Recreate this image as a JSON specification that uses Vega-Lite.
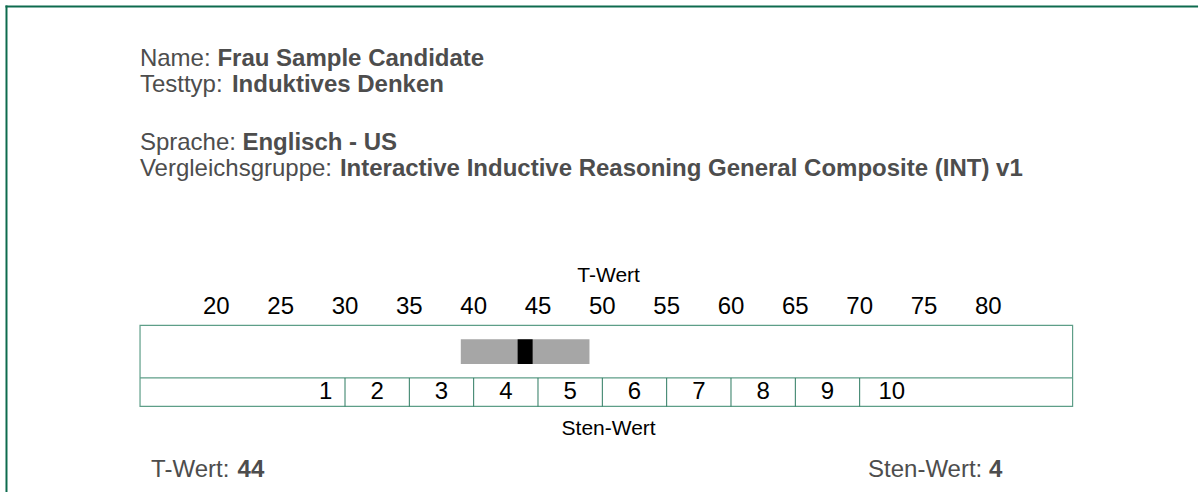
{
  "$schema": "https://vega.github.io/schema/vega-lite/v6.json",
  "width": 1200,
  "height": 493,
  "padding": 0,
  "autosize": {"type": "fit", "contains": "padding"},
  "background": "white",
  "config": {"view": {"stroke": null}, "font": "Liberation Sans"},
  "datasets": {
    "kopf": [
      {"feld": "Name", "label": "Name:", "wert": "Frau Sample Candidate"},
      {"feld": "Testtyp", "label": "Testtyp:", "wert": "Induktives Denken"},
      {"feld": "Sprache", "label": "Sprache:", "wert": "Englisch - US"},
      {"feld": "Vergleichsgruppe", "label": "Vergleichsgruppe:", "wert": "Interactive Inductive Reasoning General Composite (INT) v1"}
    ],
    "ergebnis": [{"t_wert": 44, "band_unten": 39, "band_oben": 49, "sten": 4}],
    "tskala": [{"t": 20}, {"t": 25}, {"t": 30}, {"t": 35}, {"t": 40}, {"t": 45}, {"t": 50}, {"t": 55}, {"t": 60}, {"t": 65}, {"t": 70}, {"t": 75}, {"t": 80}],
    "sten": [
      {"sten": 1, "t_mitte": 28.5}, {"sten": 2, "t_mitte": 32.5}, {"sten": 3, "t_mitte": 37.5},
      {"sten": 4, "t_mitte": 42.5}, {"sten": 5, "t_mitte": 47.5}, {"sten": 6, "t_mitte": 52.5},
      {"sten": 7, "t_mitte": 57.5}, {"sten": 8, "t_mitte": 62.5}, {"sten": 9, "t_mitte": 67.5},
      {"sten": 10, "t_mitte": 72.5}
    ]
  },
  "data": {"name": "ergebnis"},
  "layer": [
    {
      "mark": {"type": "rule", "color": "#0e6b4e", "strokeWidth": 2},
      "encoding": {
        "x": {"datum": 3.61, "type": "quantitative", "scale": {"domain": [3.186, 96.296], "nice": false, "zero": false}, "axis": null},
        "x2": {"datum": 96.3},
        "y": {"datum": 6.5, "type": "quantitative", "scale": {"domain": [0, 493], "reverse": true, "nice": false, "zero": false}, "axis": null}
      }
    },
    {
      "mark": {"type": "rule", "color": "#0e6b4e", "strokeWidth": 2},
      "encoding": {
        "x": {"datum": 3.69, "type": "quantitative", "axis": null},
        "y": {"datum": 5.5, "type": "quantitative", "axis": null},
        "y2": {"datum": 493}
      }
    },
    {
      "mark": {"type": "rect", "fill": "transparent", "stroke": "#5e9e88", "strokeWidth": 1.2},
      "encoding": {
        "x": {"datum": 14.07, "type": "quantitative", "axis": null},
        "x2": {"datum": 86.55},
        "y": {"datum": 326, "type": "quantitative", "axis": null},
        "y2": {"datum": 407.3}
      }
    },
    {
      "mark": {"type": "rule", "color": "#5e9e88", "strokeWidth": 1.2},
      "encoding": {
        "x": {"datum": 14.07, "type": "quantitative", "axis": null},
        "x2": {"datum": 86.55},
        "y": {"datum": 378.7, "type": "quantitative", "axis": null}
      }
    },
    {
      "data": {"name": "tskala"},
      "transform": [{"filter": "datum.t >= 30 && datum.t <= 70"}],
      "mark": {"type": "rule", "color": "#2c7a60", "strokeWidth": 1},
      "encoding": {
        "x": {"field": "t", "type": "quantitative", "axis": null},
        "y": {"datum": 378.7, "type": "quantitative", "axis": null},
        "y2": {"datum": 407.3}
      }
    },
    {
      "mark": {"type": "rect", "color": "#a6a6a6"},
      "encoding": {
        "x": {"field": "band_unten", "type": "quantitative", "axis": null},
        "x2": {"field": "band_oben"},
        "y": {"datum": 340, "type": "quantitative", "axis": null},
        "y2": {"datum": 364.7}
      }
    },
    {
      "mark": {"type": "tick", "orient": "vertical", "color": "#000000", "thickness": 15, "size": 24.7, "opacity": 1},
      "encoding": {
        "x": {"field": "t_wert", "type": "quantitative", "axis": null},
        "y": {"datum": 352.35, "type": "quantitative", "axis": null}
      }
    },
    {
      "data": {"name": "tskala"},
      "mark": {"type": "text", "fontSize": 24, "color": "#000000", "align": "center", "baseline": "alphabetic"},
      "encoding": {
        "x": {"field": "t", "type": "quantitative", "axis": null},
        "y": {"datum": 314.3, "type": "quantitative", "axis": null},
        "text": {"field": "t", "type": "quantitative"}
      }
    },
    {
      "mark": {"type": "text", "text": "T-Wert", "fontSize": 21, "color": "#000000", "align": "center", "baseline": "alphabetic"},
      "encoding": {
        "x": {"datum": 50.49, "type": "quantitative", "axis": null},
        "y": {"datum": 282.7, "type": "quantitative", "axis": null}
      }
    },
    {
      "data": {"name": "sten"},
      "mark": {"type": "text", "fontSize": 24, "color": "#000000", "align": "center", "baseline": "alphabetic"},
      "encoding": {
        "x": {"field": "t_mitte", "type": "quantitative", "axis": null},
        "y": {"datum": 400, "type": "quantitative", "axis": null},
        "text": {"field": "sten", "type": "quantitative"}
      }
    },
    {
      "mark": {"type": "text", "text": "Sten-Wert", "fontSize": 21, "color": "#000000", "align": "center", "baseline": "alphabetic"},
      "encoding": {
        "x": {"datum": 50.49, "type": "quantitative", "axis": null},
        "y": {"datum": 436, "type": "quantitative", "axis": null}
      }
    },
    {
      "data": {"name": "kopf"},
      "transform": [{"filter": "datum.feld == 'Name'"}],
      "mark": {"type": "text", "fontSize": 24, "color": "#4d4d4d", "align": "left", "baseline": "alphabetic"},
      "encoding": {"x": {"datum": 14.06, "type": "quantitative", "axis": null}, "y": {"datum": 66, "type": "quantitative", "axis": null}, "text": {"field": "label"}}
    },
    {
      "data": {"name": "kopf"},
      "transform": [{"filter": "datum.feld == 'Name'"}],
      "mark": {"type": "text", "fontSize": 24, "fontWeight": "bold", "color": "#4d4d4d", "align": "left", "baseline": "alphabetic", "dx": 77.5},
      "encoding": {"x": {"datum": 14.06, "type": "quantitative", "axis": null}, "y": {"datum": 66, "type": "quantitative", "axis": null}, "text": {"field": "wert"}}
    },
    {
      "data": {"name": "kopf"},
      "transform": [{"filter": "datum.feld == 'Testtyp'"}],
      "mark": {"type": "text", "fontSize": 24, "color": "#4d4d4d", "align": "left", "baseline": "alphabetic"},
      "encoding": {"x": {"datum": 14.06, "type": "quantitative", "axis": null}, "y": {"datum": 92, "type": "quantitative", "axis": null}, "text": {"field": "label"}}
    },
    {
      "data": {"name": "kopf"},
      "transform": [{"filter": "datum.feld == 'Testtyp'"}],
      "mark": {"type": "text", "fontSize": 24, "fontWeight": "bold", "color": "#4d4d4d", "align": "left", "baseline": "alphabetic", "dx": 92},
      "encoding": {"x": {"datum": 14.06, "type": "quantitative", "axis": null}, "y": {"datum": 92, "type": "quantitative", "axis": null}, "text": {"field": "wert"}}
    },
    {
      "data": {"name": "kopf"},
      "transform": [{"filter": "datum.feld == 'Sprache'"}],
      "mark": {"type": "text", "fontSize": 24, "color": "#4d4d4d", "align": "left", "baseline": "alphabetic"},
      "encoding": {"x": {"datum": 14.06, "type": "quantitative", "axis": null}, "y": {"datum": 150, "type": "quantitative", "axis": null}, "text": {"field": "label"}}
    },
    {
      "data": {"name": "kopf"},
      "transform": [{"filter": "datum.feld == 'Sprache'"}],
      "mark": {"type": "text", "fontSize": 24, "fontWeight": "bold", "color": "#4d4d4d", "align": "left", "baseline": "alphabetic", "dx": 102.5},
      "encoding": {"x": {"datum": 14.06, "type": "quantitative", "axis": null}, "y": {"datum": 150, "type": "quantitative", "axis": null}, "text": {"field": "wert"}}
    },
    {
      "data": {"name": "kopf"},
      "transform": [{"filter": "datum.feld == 'Vergleichsgruppe'"}],
      "mark": {"type": "text", "fontSize": 24, "color": "#4d4d4d", "align": "left", "baseline": "alphabetic"},
      "encoding": {"x": {"datum": 14.06, "type": "quantitative", "axis": null}, "y": {"datum": 176, "type": "quantitative", "axis": null}, "text": {"field": "label"}}
    },
    {
      "data": {"name": "kopf"},
      "transform": [{"filter": "datum.feld == 'Vergleichsgruppe'"}],
      "mark": {"type": "text", "fontSize": 24, "fontWeight": "bold", "color": "#4d4d4d", "align": "left", "baseline": "alphabetic", "dx": 200},
      "encoding": {"x": {"datum": 14.06, "type": "quantitative", "axis": null}, "y": {"datum": 176, "type": "quantitative", "axis": null}, "text": {"field": "wert"}}
    },
    {
      "mark": {"type": "text", "text": "T-Wert:", "fontSize": 24, "color": "#4d4d4d", "align": "left", "baseline": "alphabetic"},
      "encoding": {"x": {"datum": 14.93, "type": "quantitative", "axis": null}, "y": {"datum": 477.7, "type": "quantitative", "axis": null}}
    },
    {
      "mark": {"type": "text", "fontSize": 24, "fontWeight": "bold", "color": "#4d4d4d", "align": "left", "baseline": "alphabetic", "dx": 86.5},
      "encoding": {"x": {"datum": 14.93, "type": "quantitative", "axis": null}, "y": {"datum": 477.7, "type": "quantitative", "axis": null}, "text": {"field": "t_wert", "type": "quantitative"}}
    },
    {
      "mark": {"type": "text", "text": "Sten-Wert:", "fontSize": 24, "color": "#4d4d4d", "align": "left", "baseline": "alphabetic"},
      "encoding": {"x": {"datum": 70.65, "type": "quantitative", "axis": null}, "y": {"datum": 477.7, "type": "quantitative", "axis": null}}
    },
    {
      "mark": {"type": "text", "fontSize": 24, "fontWeight": "bold", "color": "#4d4d4d", "align": "left", "baseline": "alphabetic", "dx": 121},
      "encoding": {"x": {"datum": 70.65, "type": "quantitative", "axis": null}, "y": {"datum": 477.7, "type": "quantitative", "axis": null}, "text": {"field": "sten", "type": "quantitative"}}
    }
  ]
}
